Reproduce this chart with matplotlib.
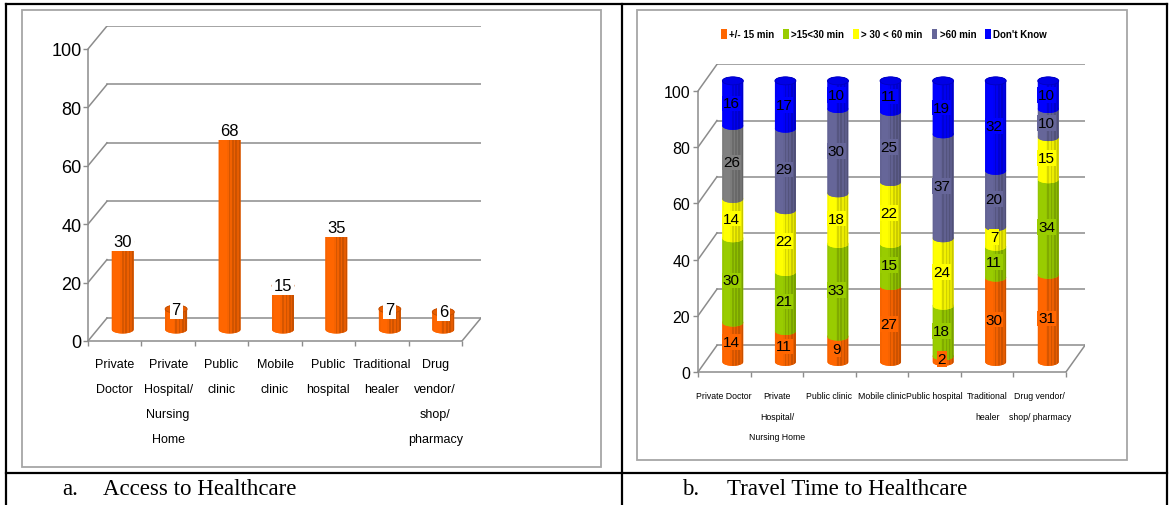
import numpy as np
import matplotlib
matplotlib.use('Agg')
import matplotlib.pyplot as plt
import matplotlib.colors as mcolors
from matplotlib.patches import Rectangle, Ellipse, PathPatch, Patch
from matplotlib.path import Path
from matplotlib.lines import Line2D

plt.rcParams['font.family'] = ['Liberation Sans', 'DejaVu Sans']

# chart a: access to healthcare (%)
access_labels = ['Private\nDoctor', 'Private\nHospital/\nNursing\nHome', 'Public\nclinic',
                 'Mobile\nclinic', 'Public\nhospital', 'Traditional\nhealer',
                 'Drug\nvendor/\nshop/\npharmacy']
access_values = [30, 7, 68, 15, 35, 7, 6]

# chart b: travel time to healthcare (%)
travel_labels = ['Private Doctor', 'Private\nHospital/\nNursing Home', 'Public clinic',
                 'Mobile clinic', 'Public hospital', 'Traditional\nhealer',
                 'Drug vendor/\nshop/ pharmacy']
travel_series = ['+/- 15 min', '>15<30 min', '> 30 < 60 min', '>60 min', "Don't Know"]
under_15 = [14, 11, 9, 27, 2, 30, 31]
from_15_to_30 = [30, 21, 33, 15, 18, 11, 34]
from_30_to_60 = [14, 22, 18, 22, 24, 7, 15]
over_60 = [26, 29, 30, 25, 37, 20, 10]
dont_know = [16, 17, 10, 11, 19, 32, 10]

y_ticks = [0, 20, 40, 60, 80, 100]

ORANGE = '#FF6600'
series_colors = [ORANGE, '#99CC00', '#FFFF00', '#666699', '#0000FF']
GRID = '#8c8c8c'

W, H = 1169, 506
fig = plt.figure(figsize=(W / 100, H / 100), dpi=100)


def fx(px):
    return px / W


def fy(py):
    return 1 - py / H


def fig_line(x0, y0, x1, y1, color='black', lw=1.6):
    fig.add_artist(Line2D([fx(x0), fx(x1)], [fy(y0), fy(y1)], color=color, lw=lw,
                          transform=fig.transFigure))


def shade(color, f):
    r, g, b = mcolors.to_rgb(color)
    return (min(r * f, 1), min(g * f, 1), min(b * f, 1))


def cylinder(ax, xc, y0, y1, w, eh, color, top=False, zo=3):
    # body outline: front arc at the bottom, back arc at the top
    t = np.linspace(0, np.pi, 40)
    bx = xc - w / 2 * np.cos(t)
    by = y0 - eh / 2 * np.sin(t)
    tx = xc + w / 2 * np.cos(t)
    ty = y1 + eh / 2 * np.sin(t)
    verts = np.vstack([np.column_stack([bx, by]), np.column_stack([tx, ty]), [[bx[0], by[0]]]])
    body = PathPatch(Path(verts, closed=True), facecolor=color, edgecolor='none', zorder=zo)
    ax.add_patch(body)
    # vertical stripes give the rounded look on the right side
    factors = [0.97, 1.0, 1.0, 1.0, 1.0, 0.97, 0.84, 0.95, 0.82, 0.93, 0.8, 0.9, 0.78]
    n = len(factors)
    for k, f in enumerate(factors):
        r = Rectangle((xc - w / 2 + k * w / n, y0 - eh), w / n, y1 - y0 + 2 * eh,
                      facecolor=shade(color, f), edgecolor='none', zorder=zo)
        ax.add_patch(r)
        r.set_clip_path(body)
    if top:
        ax.add_patch(Ellipse((xc, y1), w, eh, facecolor=shade(color, 0.9),
                             edgecolor=shade(color, 0.75), lw=0.6, zorder=zo + 0.5))


def frame_3d(ax, dx, dy, ncat):
    # back wall gridlines plus the side-wall diagonals
    for v in y_ticks:
        ax.plot([dx, ncat + dx], [v + dy, v + dy], color=GRID, lw=1.1, zorder=1)
        ax.plot([0, dx], [v, v + dy], color=GRID, lw=1.1, zorder=1)
    ax.plot([ncat, ncat + dx], [0, dy], color=GRID, lw=1.1, zorder=1)
    ax.set_xlim(0, ncat + dx)
    ax.set_ylim(0, 100 + dy)
    for s in ['top', 'right']:
        ax.spines[s].set_visible(False)
    ax.spines['left'].set_bounds(0, 100)
    ax.spines['bottom'].set_bounds(0, ncat)
    for s in ['left', 'bottom']:
        ax.spines[s].set_color(GRID)
        ax.spines[s].set_linewidth(1.1)
    ax.set_facecolor('none')
    ax.set_yticks(y_ticks)
    ax.set_xticks(np.arange(ncat + 1))
    ax.set_xticklabels([])
    ax.tick_params(axis='both', which='major', color=GRID, length=3.5, width=1.0)
    ax.set_xticks(np.arange(ncat) + 0.5, minor=True)
    ax.tick_params(axis='x', which='minor', length=0)


def add_axes_px(x0, x1, ybot, ytop):
    return fig.add_axes([fx(x0), fy(ybot), fx(x1) - fx(x0), fy(ytop) - fy(ybot)])


# table rules and panel frames
fig_line(6, 5, 1167, 5)
fig_line(6, 5, 6, 506)
fig_line(622, 5, 622, 506)
fig_line(1167, 5, 1167, 506)
fig_line(6, 474, 1167, 474)
fig.add_artist(Rectangle((fx(22), fy(468)), fx(601) - fx(22), fy(11) - fy(468), fill=False,
                         edgecolor='#a6a6a6', lw=1.3, transform=fig.transFigure))
fig.add_artist(Rectangle((fx(637), fy(461)), fx(1127) - fx(637), fy(11) - fy(461), fill=False,
                         edgecolor='#a6a6a6', lw=1.3, transform=fig.transFigure))

ncat = len(access_values)

# ---- chart a ----
pxc, pxu = 53.43, 2.92
dxa, dya = 19 / pxc, 23 / pxu
ax1 = add_axes_px(88, 88 + (ncat + dxa) * pxc, 342, 342 - (100 + dya) * pxu)
frame_3d(ax1, dxa, dya, ncat)
ax1.set_yticklabels([str(v) for v in y_ticks], fontsize=13)
ax1.tick_params(axis='y', pad=1)
ax1.set_xticklabels(access_labels, minor=True, fontsize=9, linespacing=2.45, va='top')
ax1.tick_params(axis='x', which='minor', pad=12)
wa, eha = 22 / pxc, 8 / pxu
for i, v in enumerate(access_values):
    xc = i + 0.5 + dxa * 0.42
    base = dya * 0.5
    cylinder(ax1, xc, base, base + v, wa, eha, ORANGE, top=True, zo=3 + i * 0.01)
    ax1.text(xc, base + v, str(v), ha='center', va='center', fontsize=12, zorder=10,
             bbox=dict(boxstyle='square,pad=0.12', facecolor='white', edgecolor='none'))

# ---- chart b ----
pxc, pxu = 52.57, 2.81
dxb, dyb = 19 / pxc, 26.7 / pxu
ax2 = add_axes_px(698, 698 + (ncat + dxb) * pxc, 373, 373 - (100 + dyb) * pxu)
frame_3d(ax2, dxb, dyb, ncat)
ax2.set_yticklabels([str(v) for v in y_ticks], fontsize=11.5)
ax2.tick_params(axis='y', pad=2)
ax2.set_xticklabels(travel_labels, minor=True, fontsize=6.3, linespacing=2.6, va='top')
ax2.tick_params(axis='x', which='minor', pad=14)

wb, ehb = 21 / pxc, 8 / pxu
stack = [under_15, from_15_to_30, from_30_to_60, over_60, dont_know]
for i in range(ncat):
    xc = i + 0.5 + dxb * 0.45
    y = dyb * 0.38
    for s, vals in enumerate(stack):
        v = vals[i]
        col = series_colors[s]
        if i == 0 and s == 3:
            col = '#808080'  # highlighted point in the Private Doctor column
        cylinder(ax2, xc, y, y + v, wb, ehb, col, top=(s == len(stack) - 1),
                 zo=3 + s * 0.1 + i * 0.01)
        ax2.text(xc - 0.03, y + v / 2, str(v), ha='center', va='center', fontsize=11,
                 zorder=10, bbox=dict(boxstyle='square,pad=0.05', facecolor=col,
                                      edgecolor='none'))
        y += v

handles = [Patch(facecolor=c, edgecolor='none') for c in series_colors]
fig.legend(handles, travel_series, loc='center', bbox_to_anchor=(fx(884), fy(35)), ncol=5,
           frameon=False, prop={'size': 7, 'weight': 'bold'}, handlelength=0.6,
           handleheight=1.3, handletextpad=0.25, columnspacing=0.9)

# captions
serif = {'family': 'Liberation Serif', 'size': 16.5}
fig.text(fx(62), fy(490), 'a.', va='center', ha='left', **serif)
fig.text(fx(103), fy(490), 'Access to Healthcare', va='center', ha='left', **serif)
fig.text(fx(682), fy(490), 'b.', va='center', ha='left', **serif)
fig.text(fx(727), fy(490), 'Travel Time to Healthcare', va='center', ha='left', **serif)

fig.savefig('out.png', dpi=100, facecolor='white')
